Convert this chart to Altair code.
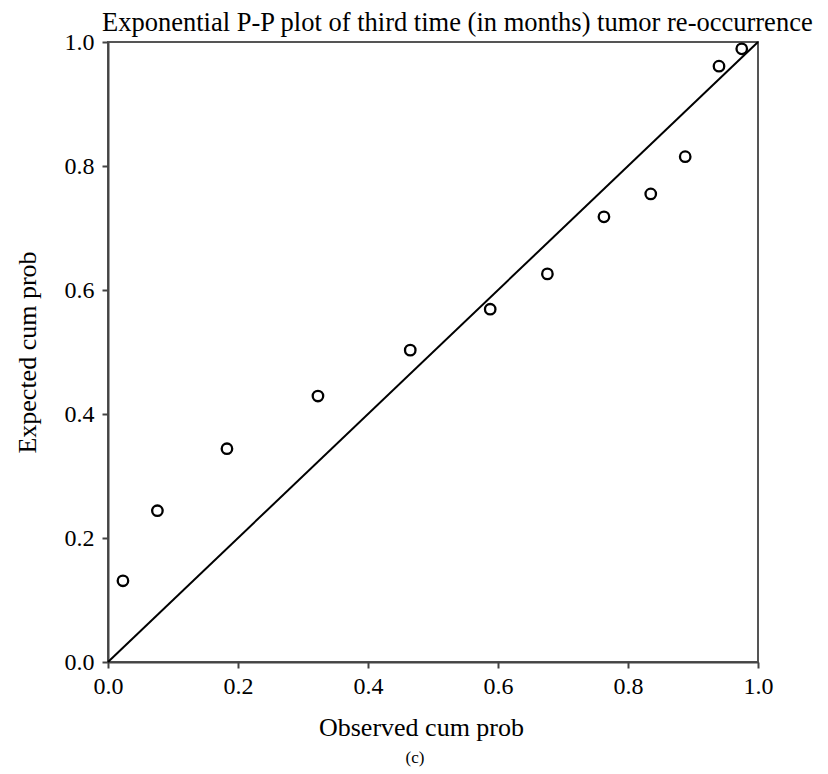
import altair as alt
import pandas as pd

observed = [0.023, 0.076, 0.183, 0.323, 0.465, 0.588, 0.676, 0.763, 0.835, 0.888, 0.940, 0.975]
expected = [0.131, 0.244, 0.344, 0.429, 0.503, 0.569, 0.626, 0.718, 0.755, 0.815, 0.961, 0.989]
ref_x = [0.0, 1.0]
ref_y = [0.0, 1.0]
ticks = [0.0, 0.2, 0.4, 0.6, 0.8, 1.0]
title_text = "Exponential P-P plot of third time (in months) tumor re-occurrence"
caption_text = "(c)"

pts = pd.DataFrame({"obs": observed, "exp": expected})
ref = pd.DataFrame({"obs": ref_x, "exp": ref_y})
cap = pd.DataFrame({"t": [caption_text]})
ttl = pd.DataFrame({"t": [title_text]})

FONT = "Liberation Serif"

xs = alt.Scale(domain=[0, 1], nice=False, zero=False)
ys = alt.Scale(domain=[0, 1], nice=False, zero=False)

common = dict(values=ticks, format=".1f", grid=False, labelFlush=False,
              tickSize=6, tickWidth=2, tickColor="#444", domainColor="#444", domainWidth=2,
              labelFontSize=24, labelFont=FONT, labelColor="#000",
              titleFontSize=26, titleFont=FONT, titleFontWeight="normal", titleColor="#000")

xax = alt.Axis(title="Observed cum prob", labelPadding=6, titlePadding=16, titleX=313, **common)
yax = alt.Axis(title="Expected cum prob", labelPadding=8, titlePadding=24, **common)

line = alt.Chart(ref).mark_line(color="black", strokeWidth=2).encode(
    x=alt.X("obs:Q", scale=xs, axis=xax),
    y=alt.Y("exp:Q", scale=ys, axis=yax),
)
points = alt.Chart(pts).mark_point(shape="circle", filled=False, color="black",
                                   strokeWidth=2.3, size=110, opacity=1).encode(
    x=alt.X("obs:Q", scale=xs),
    y=alt.Y("exp:Q", scale=ys),
)
caption = alt.Chart(cap).mark_text(font=FONT, fontSize=17, color="black", baseline="middle").encode(
    text="t:N", x=alt.value(307), y=alt.value(716)
)
title = alt.Chart(ttl).mark_text(font=FONT, fontSize=26.5, color="black", align="left",
                                 baseline="alphabetic").encode(
    text="t:N", x=alt.value(-6), y=alt.value(-11)
)

chart = alt.layer(line, points, caption, title).properties(
    width=650, height=620,
    autosize=alt.AutoSizeParams(type="none"),
    padding={"left": 100, "top": 34, "right": 62, "bottom": 112},
).configure_view(stroke="#555", strokeWidth=2)

chart.save("out.html", embed_options={"renderer": "svg", "actions": False})
